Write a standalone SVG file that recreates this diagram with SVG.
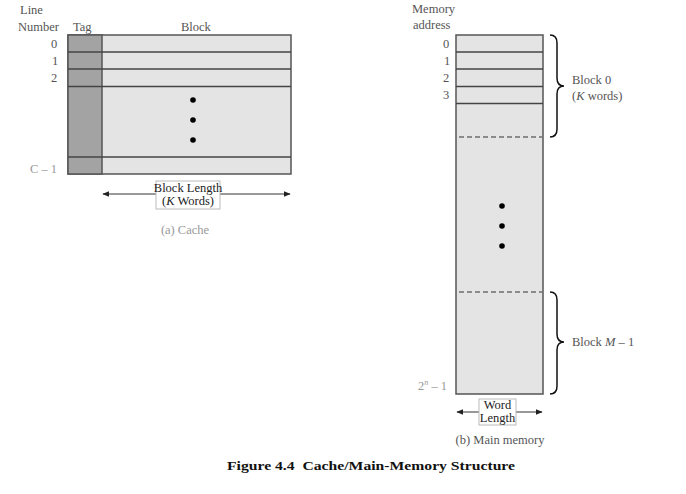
<svg xmlns="http://www.w3.org/2000/svg" width="686" height="494" viewBox="0 0 686 494">
<style>
text{font-family:"Liberation Serif","Times New Roman",serif;font-size:12.5px;fill:#555}
.d{fill:#222}
.f{fill:#999}
.row{fill:#e4e4e4;stroke:#555;stroke-width:1.5}
.ln{stroke:#444;stroke-width:1.6}
.dash{stroke:#333;stroke-width:1.2;stroke-dasharray:5,3}
.br{fill:none;stroke:#111;stroke-width:1.5}
.ar{stroke:#333;stroke-width:1;marker-start:url(#ah);marker-end:url(#ah)}
.lb{fill:#fff;stroke:#bbb;stroke-width:1}
</style>
<defs>
<marker id="ah" viewBox="0 0 10 10" refX="9" refY="5" markerWidth="7" markerHeight="7" orient="auto-start-reverse" markerUnits="userSpaceOnUse"><path d="M0,1 L10,5 L0,9 z" fill="#222"/></marker>
</defs>
<rect width="686" height="494" fill="#fff"/>

<g id="cache">
<rect class="row" x="68" y="35" width="223" height="139"/>
<rect x="68" y="35" width="34" height="139" fill="#a3a3a3" stroke="#555" stroke-width="1.5"/>
<line class="ln" x1="68" y1="52" x2="291" y2="52"/>
<line class="ln" x1="68" y1="69" x2="291" y2="69"/>
<line class="ln" x1="68" y1="86.5" x2="291" y2="86.5"/>
<line class="ln" x1="68" y1="157" x2="291" y2="157"/>
<circle cx="193" cy="100" r="2.8" fill="#000"/>
<circle cx="193" cy="120" r="2.8" fill="#000"/>
<circle cx="193" cy="140" r="2.8" fill="#000"/>
<text x="20" y="14">Line</text>
<text x="18" y="31">Number</text>
<text x="73" y="31">Tag</text>
<text x="181" y="31">Block</text>
<text x="51" y="48">0</text>
<text x="52" y="65">1</text>
<text x="51" y="82">2</text>
<text class="f" x="30" y="173">C – 1</text>
</g>

<g id="cache-width">
<line class="ar" x1="103" y1="194" x2="290" y2="194"/>
<rect class="lb" x="156" y="181" width="64" height="28"/>
<text class="d" x="188" y="192" text-anchor="middle" font-size="11">Block Length</text>
<text class="d" x="188" y="205" text-anchor="middle" font-size="11">(<tspan font-style="italic">K</tspan> Words)</text>
<text class="f" x="185" y="234" text-anchor="middle">(a) Cache</text>
</g>

<g id="main-memory">
<rect class="row" x="456" y="35" width="87" height="359"/>
<line class="ln" x1="456" y1="52" x2="543" y2="52"/>
<line class="ln" x1="456" y1="69" x2="543" y2="69"/>
<line class="ln" x1="456" y1="86.5" x2="543" y2="86.5"/>
<line class="ln" x1="456" y1="103.5" x2="543" y2="103.5"/>
<line class="dash" x1="459" y1="137" x2="542" y2="137"/>
<line class="dash" x1="459" y1="292" x2="542" y2="292"/>
<circle cx="502" cy="206" r="2.8" fill="#000"/>
<circle cx="502" cy="226" r="2.8" fill="#000"/>
<circle cx="502" cy="246" r="2.8" fill="#000"/>
<text x="412" y="13">Memory</text>
<text x="413" y="29">address</text>
<text x="443" y="48">0</text>
<text x="444" y="65">1</text>
<text x="443" y="82">2</text>
<text x="443" y="99">3</text>
<text class="f" x="418" y="390">2<tspan font-size="8" dy="-5" font-style="italic">n</tspan><tspan dy="5"> – 1</tspan></text>
</g>

<g id="braces">
<path class="br" d="M550,35 Q557,35 557,43 L557,78 Q557,86 564,86 Q557,86 557,94 L557,129 Q557,137 550,137"/>
<path class="br" d="M550,292 Q557,292 557,300 L557,334 Q557,342 564,342 Q557,342 557,350 L557,386 Q557,394 550,394"/>
<text x="572" y="84">Block 0</text>
<text x="572" y="100">(<tspan font-style="italic">K</tspan> words)</text>
<text x="572" y="346">Block <tspan font-style="italic">M</tspan> – 1</text>
</g>

<g id="mem-width">
<line class="ar" x1="457" y1="412" x2="542" y2="412"/>
<rect class="lb" x="479" y="399" width="37" height="26"/>
<text class="d" x="497.5" y="409" text-anchor="middle" font-size="10">Word</text>
<text class="d" x="497.5" y="421.5" text-anchor="middle" font-size="10">Length</text>
<text x="500" y="444" text-anchor="middle">(b) Main memory</text>
</g>

<text x="227" y="470" font-size="16" font-weight="bold" style="fill:#111" textLength="288" lengthAdjust="spacingAndGlyphs" xml:space="preserve">Figure 4.4  Cache/Main-Memory Structure</text>
</svg>
